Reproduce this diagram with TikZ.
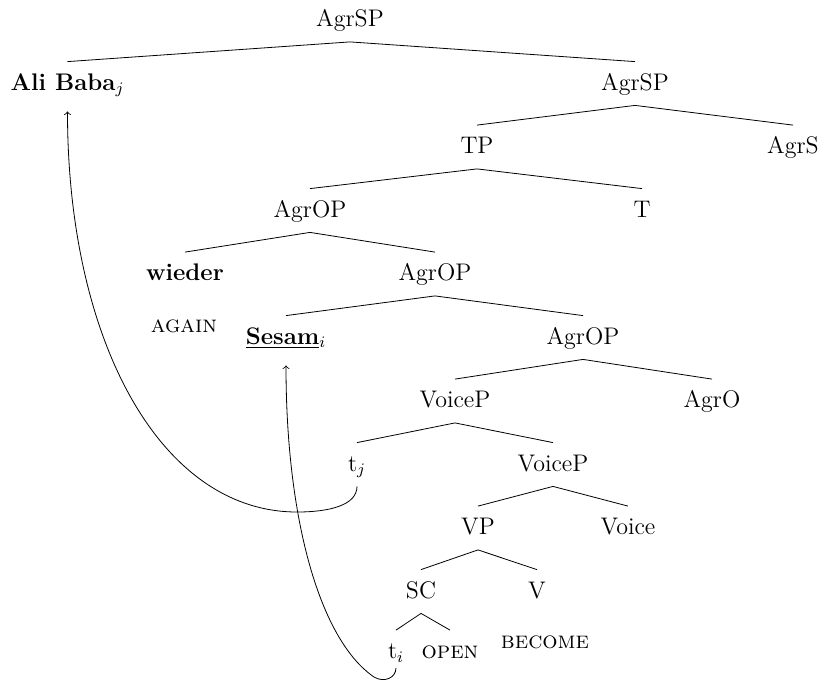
\documentclass[tikz,border=0pt]{standalone}
\begin{document}
\begin{tikzpicture}[x=0.5pt, y=-0.5pt,
        every node/.style={font=\fontsize{12}{14}\selectfont, text height=9pt, text depth=2.5pt, inner xsep=1pt, inner ysep=5pt},
        gloss/.style={font=\fontsize{12}{14}\selectfont\scshape}]
        \useasboundingbox (0,0) rectangle (825,681);

        % Uzly stromu (po hladinach)
        \node (root) at (350,20) {AgrSP};
        \node (ali) at (67.5,83.5) {\textbf{Ali Baba}$_j$};
        \node (agrsp) at (635,83.5) {AgrSP};
        \node (tp) at (477,147) {TP};
        \node (agrs) at (793,147) {AgrS};
        \node (agropA) at (310,210.5) {AgrOP};
        \node (t) at (642,210.5) {T};
        \node (wieder) at (185,274) {\textbf{wieder}};
        \node (agropB) at (435,274) {AgrOP};
        \node (sesam) at (286,337.5) {\underline{\textbf{Sesam}}$_i$};
        \node (agropC) at (583,337.5) {AgrOP};
        \node (voicepA) at (455,401) {VoiceP};
        \node (agro) at (712,401) {AgrO};
        \node (tj) at (357,464.5) {t$_j$};
        \node (voicepB) at (553,464.5) {VoiceP};
        \node (vp) at (478,528) {VP};
        \node (voice) at (628,528) {Voice};
        \node (sc) at (421,591.5) {SC};
        \node (v) at (537,591.5) {V};
        \node (ti) at (396,652) {t$_i$};
        \node[gloss] (open) at (450,652) {open};

        % Glosy
        \node[gloss] (again) at (184,326) {again};
        \node[gloss] (become) at (545,642) {become};

        % Hrany
        \draw (root.south) -- (ali.north);
        \draw (root.south) -- (agrsp.north);
        \draw (agrsp.south) -- (tp.north);
        \draw (agrsp.south) -- (agrs.north);
        \draw (tp.south) -- (agropA.north);
        \draw (tp.south) -- (t.north);
        \draw (agropA.south) -- (wieder.north);
        \draw (agropA.south) -- (agropB.north);
        \draw (agropB.south) -- (sesam.north);
        \draw (agropB.south) -- (agropC.north);
        \draw (agropC.south) -- (voicepA.north);
        \draw (agropC.south) -- (agro.north);
        \draw (voicepA.south) -- (tj.north);
        \draw (voicepA.south) -- (voicepB.north);
        \draw (voicepB.south) -- (vp.north);
        \draw (voicepB.south) -- (voice.north);
        \draw (vp.south) -- (sc.north);
        \draw (vp.south) -- (v.north);
        \draw (sc.south) -- (ti.north);
        \draw (sc.south) -- (open.north);

        % Pohyb: t_j -> Ali Baba
        \coordinate (dnj) at (297,512);
        \draw[->, shorten >=3pt] (tj.south) .. controls (357,505) and (330,512) .. (dnj)
            .. controls (160,512) and (67.5,340) .. (ali.south);

        % Pohyb: t_i -> Sesam
        \coordinate (dni) at (374,677);
        \draw[->, shorten >=3pt] ([yshift=3pt]ti.south) .. controls (396,678) and (384,683) .. (dni)
            .. controls (320,640) and (286,520) .. (sesam.south);

    \end{tikzpicture}
\end{document}
